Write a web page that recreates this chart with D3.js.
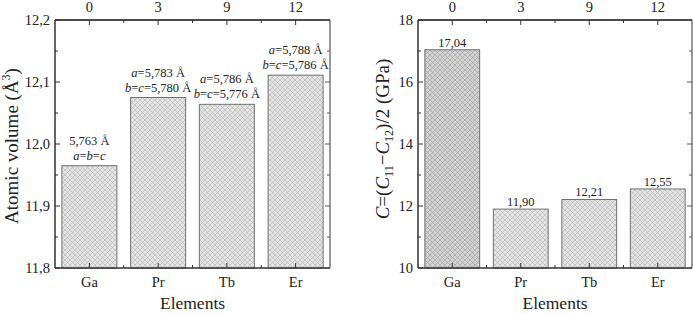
<!DOCTYPE html>
<html><head><meta charset="utf-8">
<script src="https://cdn.jsdelivr.net/npm/d3@7"></script>
<style>body{margin:0;background:#fff}svg{display:block}svg text{font-family:"Liberation Serif","Times New Roman",Times,"DejaVu Serif",serif;fill:#222}</style>
</head><body>
<svg id="c" width="693" height="314" font-family="Liberation Serif, Times New Roman, serif"></svg>
<script>
const categories = ["Ga", "Pr", "Tb", "Er"];
const topLabels = ["0", "3", "9", "12"];
const volume = [11.965, 12.075, 12.064, 12.111];
const shear = [17.04, 11.90, 12.21, 12.55];
const latticeA = [5.763, 5.783, 5.786, 5.788];
const latticeBC = [5.763, 5.780, 5.776, 5.786];
const volTicks = [11.8, 11.9, 12.0, 12.1, 12.2];
const shearTicks = [10, 12, 14, 16, 18];

const svg = d3.select("#c");
const comma = (f) => (v) => d3.format(f)(v).replace(".", ",");

const defs = svg.append("defs");
function hatch(id, fill, stroke) {
  const p = defs.append("pattern").attr("id", id).attr("patternUnits", "userSpaceOnUse")
    .attr("width", 5).attr("height", 5);
  p.append("rect").attr("width", 5).attr("height", 5).attr("fill", fill);
  p.append("path").attr("d", "M0,0L5,5M5,0L0,5M-1,1L1,-1M4,6L6,4M-1,4L1,6M4,-1L6,1")
    .attr("stroke", stroke).attr("stroke-width", 0.5).attr("fill", "none");
}
hatch("h1", "#e4e4e4", "#a8a8a8");
hatch("h2", "#d2d2d2", "#939393");

function panel(opts) {
  const {x0, x1, y0, y1, domain, ticks, minor, values, fmt} = opts;
  const g = svg.append("g");
  const x = d3.scaleBand().domain(categories).range([x0, x1]).paddingInner(0.2).paddingOuter(0.1);
  const y = d3.scaleLinear().domain(domain).range([y1, y0]);
  g.selectAll("rect.bar").data(values).join("rect").attr("class", "bar")
    .attr("x", (d, i) => x(categories[i])).attr("width", x.bandwidth())
    .attr("y", d => y(d)).attr("height", d => y1 - y(d))
    .attr("fill", (d, i) => opts.fillFor(i)).attr("stroke", "#707070").attr("stroke-width", 1);
  g.append("line").attr("x1", x1).attr("x2", x1).attr("y1", y0).attr("y2", y1).attr("stroke", "#777").attr("stroke-width", 1.5);
  g.append("line").attr("x1", x0).attr("x2", x1).attr("y1", y0).attr("y2", y0).attr("stroke", "#111").attr("stroke-width", 1.3);
  g.append("line").attr("x1", x0).attr("x2", x0).attr("y1", y0).attr("y2", y1).attr("stroke", "#111").attr("stroke-width", 1.3);
  g.append("line").attr("x1", x0).attr("x2", x1).attr("y1", y1).attr("y2", y1).attr("stroke", "#333").attr("stroke-width", 1.5);
  const tk = d3.ticks(domain[0], domain[1], (domain[1] - domain[0]) / minor);
  tk.forEach(v => {
    const major = ticks.some(t => Math.abs(t - v) < 1e-9);
    const L = major ? 5 : 3;
    g.append("line").attr("x1", x0).attr("x2", x0 + L).attr("y1", y(v)).attr("y2", y(v)).attr("stroke", "#333");
    g.append("line").attr("x1", x1).attr("x2", x1 - L).attr("y1", y(v)).attr("y2", y(v)).attr("stroke", "#555");
  });
  g.selectAll("text.yt").data(ticks).join("text").attr("class", "yt")
    .attr("x", x0 - 5).attr("y", d => y(d) + 5).attr("text-anchor", "end")
    .attr("font-size", 14.5).text(fmt);
  categories.forEach((c, i) => {
    const cx = x(c) + x.bandwidth() / 2;
    g.append("line").attr("x1", cx).attr("x2", cx).attr("y1", y1).attr("y2", y1 - 5).attr("stroke", "#333");
    g.append("line").attr("x1", cx).attr("x2", cx).attr("y1", y0).attr("y2", y0 + 5).attr("stroke", "#333");
    if (i < categories.length - 1) {
      const mx = cx + x.step() / 2;
      g.append("line").attr("x1", mx).attr("x2", mx).attr("y1", y1).attr("y2", y1 - 3).attr("stroke", "#333");
      g.append("line").attr("x1", mx).attr("x2", mx).attr("y1", y0).attr("y2", y0 + 3).attr("stroke", "#333");
    }
    g.append("text").attr("x", cx).attr("y", 287).attr("text-anchor", "middle").attr("font-size", 14.5).text(c);
    g.append("text").attr("x", cx).attr("y", 12).attr("text-anchor", "middle").attr("font-size", 14.5).text(topLabels[i]);
  });
  g.append("text").attr("x", (x0 + x1) / 2).attr("y", 309).attr("text-anchor", "middle").attr("font-size", 17.5).text("Elements");
  return {g, x, y};
}

const L = panel({x0: 55, x1: 330, y0: 20, y1: 268, domain: [11.8, 12.2], ticks: volTicks, minor: 0.05,
  values: volume, fmt: comma(".1f"), fillFor: () => "url(#h1)"});
const f3 = comma(".3f");
categories.forEach((c, i) => {
  const cx = L.x(c) + L.x.bandwidth() / 2;
  const top = L.y(volume[i]);
  const t1 = L.g.append("text").attr("x", cx).attr("y", top - 21).attr("text-anchor", "middle").attr("font-size", 12.5);
  const t2 = L.g.append("text").attr("x", cx).attr("y", top - 6).attr("text-anchor", "middle").attr("font-size", 12.5);
  if (i === 0) {
    t1.text(f3(latticeA[i]) + " Å");
    t2.append("tspan").attr("font-style", "italic").text("a");
    t2.append("tspan").text("=");
    t2.append("tspan").attr("font-style", "italic").text("b");
    t2.append("tspan").text("=");
    t2.append("tspan").attr("font-style", "italic").text("c");
  } else {
    t1.append("tspan").attr("font-style", "italic").text("a");
    t1.append("tspan").text("=" + f3(latticeA[i]) + " Å");
    t2.append("tspan").attr("font-style", "italic").text("b");
    t2.append("tspan").text("=");
    t2.append("tspan").attr("font-style", "italic").text("c");
    t2.append("tspan").text("=" + f3(latticeBC[i]) + " Å");
  }
});
const yl = svg.append("text").attr("transform", "translate(18,146) rotate(-90)").attr("text-anchor", "middle").attr("font-size", 19);
yl.append("tspan").text("Atomic volume (Å");
yl.append("tspan").attr("font-size", 12).attr("dy", -8).text("3");
yl.append("tspan").attr("dy", 8).text(")");

const R = panel({x0: 418, x1: 692, y0: 20, y1: 268, domain: [10, 18], ticks: shearTicks, minor: 1,
  values: shear, fmt: d => String(d), fillFor: i => i === 0 ? "url(#h2)" : "url(#h1)"});
const f2 = comma(".2f");
R.g.selectAll("text.vl").data(shear).join("text").attr("class", "vl")
  .attr("x", (d, i) => R.x(categories[i]) + R.x.bandwidth() / 2).attr("y", d => R.y(d) - 3)
  .attr("text-anchor", "middle").attr("font-size", 12.5).text(f2);
const yr = svg.append("text").attr("transform", "translate(389,139) rotate(-90)").attr("text-anchor", "middle").attr("font-size", 19);
yr.append("tspan").attr("font-style", "italic").text("C");
yr.append("tspan").text("=(");
yr.append("tspan").attr("font-style", "italic").text("C");
yr.append("tspan").attr("font-size", 12).attr("dy", 4).text("11");
yr.append("tspan").attr("dy", -4).text("−");
yr.append("tspan").attr("font-style", "italic").text("C");
yr.append("tspan").attr("font-size", 12).attr("dy", 4).text("12");
yr.append("tspan").attr("dy", -4).text(")/2 (GPa)");
</script>
</body></html>
